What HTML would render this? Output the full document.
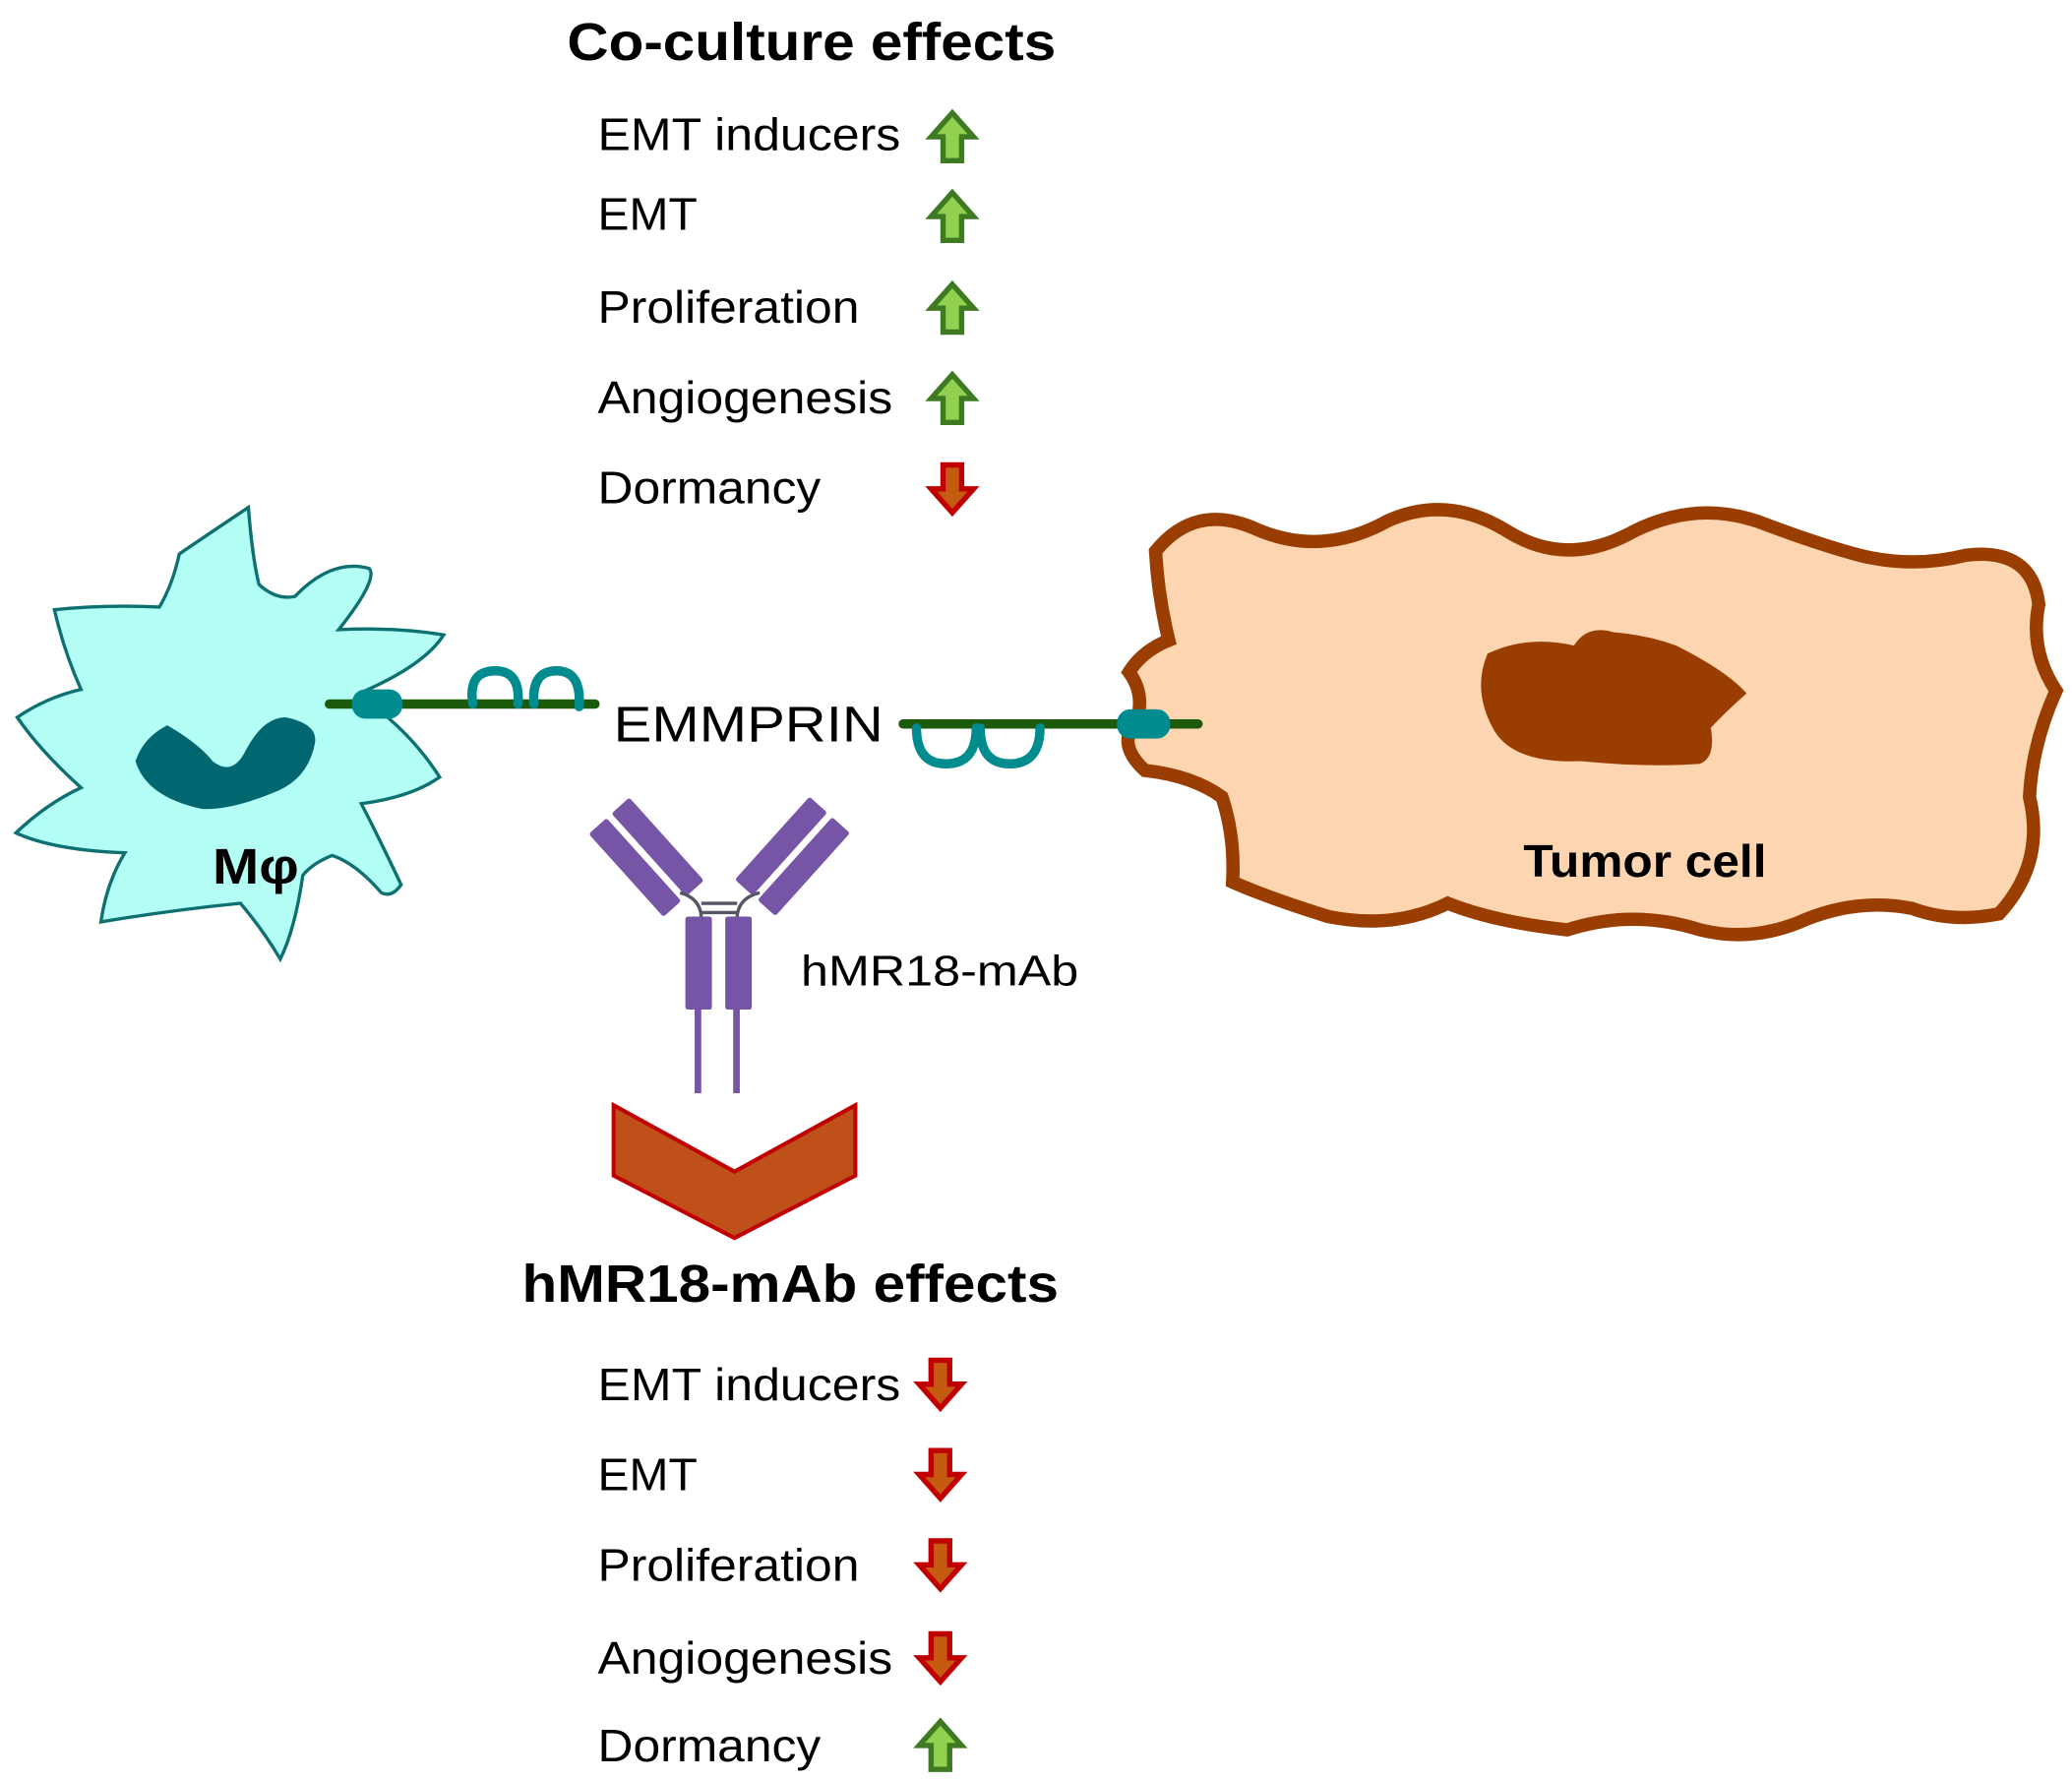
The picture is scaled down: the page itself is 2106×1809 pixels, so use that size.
<!DOCTYPE html>
<html><head><meta charset="utf-8"><style>html,body{margin:0;padding:0;background:#fff}svg{display:block}</style></head>
<body>
<svg width="2106" height="1809" viewBox="0 0 1560 1340" preserveAspectRatio="none" xmlns="http://www.w3.org/2000/svg" font-family="Liberation Sans, Arial, sans-serif">
<defs>
<g id="up"><polygon points="0,-18 16,0 7,0 7,18 -7,18 -7,0 -16,0" fill="#92d050" stroke="#3d7a22" stroke-width="4"/></g>
<g id="dn"><polygon points="0,18 16,0 7,0 7,-18 -7,-18 -7,0 -16,0" fill="#c55a11" stroke="#c00000" stroke-width="4"/></g>
</defs>
<text x="427" y="45" font-size="40" font-weight="bold" textLength="368" lengthAdjust="spacingAndGlyphs">Co-culture effects</text>
<g font-size="34">
<text x="450" y="113" textLength="228" lengthAdjust="spacingAndGlyphs">EMT inducers</text>
<text x="450" y="173" textLength="75" lengthAdjust="spacingAndGlyphs">EMT</text>
<text x="450" y="243" textLength="197" lengthAdjust="spacingAndGlyphs">Proliferation</text>
<text x="450" y="311" textLength="222" lengthAdjust="spacingAndGlyphs">Angiogenesis</text>
<text x="450" y="379" textLength="168" lengthAdjust="spacingAndGlyphs">Dormancy</text>
<text x="450" y="1054" textLength="228" lengthAdjust="spacingAndGlyphs">EMT inducers</text>
<text x="450" y="1122" textLength="75" lengthAdjust="spacingAndGlyphs">EMT</text>
<text x="450" y="1190" textLength="197" lengthAdjust="spacingAndGlyphs">Proliferation</text>
<text x="450" y="1260" textLength="222" lengthAdjust="spacingAndGlyphs">Angiogenesis</text>
<text x="450" y="1326" textLength="168" lengthAdjust="spacingAndGlyphs">Dormancy</text>
</g>
<use href="#up" x="717" y="103"/><use href="#up" x="717" y="163"/><use href="#up" x="717" y="232"/><use href="#up" x="717" y="300"/><use href="#dn" x="717" y="368"/>
<use href="#dn" x="708" y="1042"/><use href="#dn" x="708" y="1110"/><use href="#dn" x="708" y="1178"/><use href="#dn" x="708" y="1248"/><use href="#up" x="708" y="1314"/>
<text x="393" y="980" font-size="40" font-weight="bold" textLength="404" lengthAdjust="spacingAndGlyphs">hMR18-mAb effects</text>

<path d="M187,382 Q190,420 195,440 Q208,452 222,449 Q250,420 278,428 Q285,436 255,474 Q300,472 334,478 Q320,500 275,520 L293,541 Q315,560 331,585 Q310,600 272,605 Q285,630 302,666 Q295,676 287,672 Q268,650 250,644 Q235,650 228,659 Q222,700 211,722 Q198,700 181,680 Q130,685 76,694 Q80,665 94,642 Q40,640 12,627 Q35,605 61,593 Q30,565 13,540 Q35,525 61,519 Q48,490 41,459 Q80,455 120,457 Q130,440 135,417 Q160,400 187,382 Z" fill="#b3fff6" stroke="#0e7070" stroke-width="2.5"/>
<path d="M102,573 Q108,555 126,546 Q150,560 160,573 Q175,585 185,565 Q198,540 215,540 Q240,545 237,560 Q232,585 210,595 Q175,610 152,609 Q110,600 102,573 Z" fill="#006670"/>
<text x="160" y="665" font-size="38" font-weight="bold" textLength="65" lengthAdjust="spacingAndGlyphs">Mφ</text>
<line x1="248" y1="530" x2="448" y2="530" stroke="#1a5a0a" stroke-width="7" stroke-linecap="round"/>
<path d="M356,530 Q352,505 373,505 Q392,505 390,530 M402,530 Q400,505 419,505 Q438,505 436,532" fill="none" stroke="#008b8f" stroke-width="7" stroke-linecap="round"/>
<rect x="265" y="519" width="38" height="22" rx="10" fill="#008b8f"/>

<text x="462" y="558" font-size="38" textLength="203" lengthAdjust="spacingAndGlyphs">EMMPRIN</text>

<path d="M870,415 Q900,378 945,398 Q995,420 1045,392 Q1090,372 1135,400 Q1180,428 1230,400 Q1280,375 1330,395 Q1370,410 1400,418 Q1440,428 1480,418 Q1530,412 1535,455 Q1528,490 1548,520 Q1530,560 1528,600 Q1540,650 1505,688 Q1470,695 1440,684 Q1400,676 1360,692 Q1320,710 1280,700 Q1230,684 1180,700 Q1125,694 1090,680 Q1050,700 1000,690 Q955,676 928,664 Q930,630 920,600 Q898,584 862,580 Q840,560 856,542 Q862,522 850,506 Q860,490 880,482 Q872,450 870,415 Z" fill="#fdd5b1" stroke="#993d00" stroke-width="10"/>
<path d="M1120,492 Q1150,478 1185,486 Q1195,470 1215,476 Q1240,478 1262,486 Q1300,505 1315,522 Q1300,535 1288,548 Q1292,570 1280,575 Q1240,578 1190,573 Q1140,575 1125,550 Q1108,520 1120,492 Z" fill="#993d00"/>
<text x="1147" y="660" font-size="34" font-weight="bold" textLength="183" lengthAdjust="spacingAndGlyphs">Tumor cell</text>
<line x1="680" y1="545" x2="902" y2="545" stroke="#1a5a0a" stroke-width="7" stroke-linecap="round"/>
<path d="M690,548 Q690,575 712,575 Q735,575 735,548 M738,548 Q738,575 760,575 Q783,575 783,548" fill="none" stroke="#008b8f" stroke-width="7" stroke-linecap="round"/>
<rect x="841" y="534" width="40" height="22" rx="10" fill="#008b8f"/>

<g fill="#7655a6">
<g transform="translate(487,645) rotate(-42)"><rect x="-21" y="-42" width="18" height="84" rx="2"/><rect x="2" y="-42" width="18" height="84" rx="2"/></g>
<g transform="translate(597,645) rotate(42)"><rect x="-21" y="-42" width="18" height="84" rx="2"/><rect x="2" y="-42" width="18" height="84" rx="2"/></g>
<rect x="516" y="690" width="20" height="70" rx="2"/><rect x="546" y="690" width="20" height="70" rx="2"/>
<rect x="523" y="758" width="5" height="65"/><rect x="552" y="758" width="5" height="65"/>
</g>
<path d="M512,672 Q527,676 528,690 M572,672 Q556,676 555,690 M528,680 L555,680 M528,687 L555,687" fill="none" stroke="#555566" stroke-width="2.5"/>
<text x="603" y="742" font-size="32" textLength="209" lengthAdjust="spacingAndGlyphs">hMR18-mAb</text>

<polygon points="462,832 553,882 644,832 644,885 553,932 462,885" fill="#c0501a" stroke="#c00000" stroke-width="3"/>
</svg>
</body></html>
